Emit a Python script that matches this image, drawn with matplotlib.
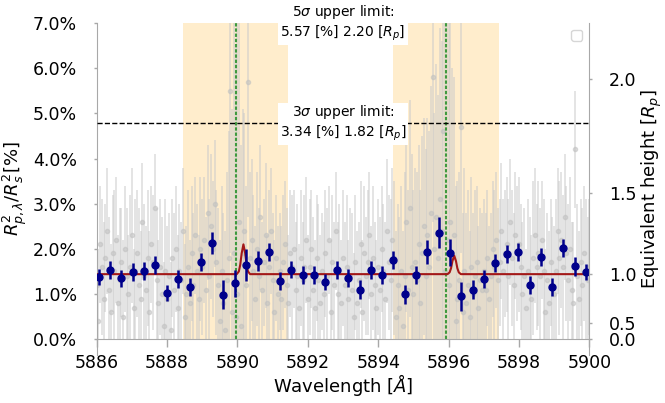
import numpy as np
import matplotlib
matplotlib.use('Agg')
import matplotlib.pyplot as plt
from matplotlib.ticker import FormatStrFormatter
from matplotlib.transforms import Bbox, TransformedBbox

plt.rcParams['font.size'] = 12.5
plt.rcParams['mathtext.fontset'] = 'dejavusans'

# ---- data ------------------------------------------------------------
baseline = 1.44  # transit depth in % (R_p)

# unbinned spectrum, 0.05 A sampling from 5886.00 to 5900.00
gray_start, gray_step = 5886.0, 0.05
gray_depth = [
    1.2, 0.4, 2.1, 1.6, 0.9, 1.8, 2.4, 1.1, 0.6, 1.9, 1.5, 2.2, 0.8, 1.3, 1.7, 0.5, 2.0, 1.4, 1.0, 1.6,
    2.3, 0.7, 1.5, 1.9, 1.2, 0.9, 2.6, 1.4, 1.1, 1.8, 0.6, 2.1, 1.7, 2.9, 1.3, 0.8, 1.6, 1.0, 0.3, 1.5,
    0.9, 1.4, 0.2, 1.8, 1.1, 2.0, 0.7, 1.5, 1.3, 2.4, 0.5, 1.0, 1.6, 0.8, 1.9, 1.2, 2.3, 1.5, 0.9, 2.0,
    1.6, 2.2, 1.1, 2.8, 1.4, 2.5, 2.0, 3.0, 1.7, 1.2, 0.4, 1.5, 0.8, 0.2, 1.3, 1.8, 5.5, 0.6, 1.9, 0.5,
    1.0, 2.6, 0.3, 1.9, 2.4, 1.2, 5.7, 1.8, 2.2, 1.5, 0.9, 2.0, 1.4, 2.7, 1.1, 1.7, 2.3, 0.8, 1.6, 2.4,
    1.3, 0.6, 1.8, 1.0, 1.5, 0.9, 1.7, 2.1, 1.2, 0.8, 1.9, 1.6, 2.0, 1.1, 1.4, 0.7, 1.8, 1.3, 1.6, 2.2,
    0.9, 1.6, 2.0, 1.1, 0.7, 1.8, 1.3, 0.8, 1.5, 1.0, 1.9, 1.4, 2.2, 0.6, 1.7, 1.2, 2.4, 1.0, 1.5, 0.8,
    1.8, 1.2, 1.6, 0.9, 1.4, 1.1, 0.5, 1.7, 0.8, 1.3, 2.1, 0.6, 1.9, 1.4, 1.7, 2.3, 1.0, 1.8, 1.2, 0.7,
    1.6, 1.1, 2.0, 1.5, 0.9, 2.4, 1.7, 1.3, 2.2, 1.8, 0.5, 1.2, 0.7, 1.5, 0.3, 1.4, 2.6, 1.1, 2.9, 1.6,
    1.0, 1.7, 1.3, 2.1, 0.8, 1.9, 2.5, 1.4, 2.3, 1.6, 2.8, 5.8, 2.0, 2.7, 1.8, 3.1, 2.4, 4.6, 1.5, 2.2,
    1.2, 2.6, 1.8, 2.3, 0.4, 0.9, 1.3, 4.7, 0.6, 1.5, 0.8, 1.2, 0.5, 1.6, 1.0, 1.4, 1.7, 0.7, 1.3, 1.1,
    1.5, 1.1, 1.8, 0.9, 1.4, 2.0, 1.6, 2.2, 1.3, 1.7, 2.4, 1.5, 1.9, 2.1, 1.4, 2.6, 1.8, 1.2, 2.3, 1.9,
    2.1, 1.6, 1.0, 1.4, 0.7, 1.5, 1.2, 0.9, 1.8, 2.3, 1.6, 1.9, 1.4, 2.2, 1.5, 0.6, 1.3, 0.8, 1.7, 1.2,
    1.0, 1.5, 2.4, 1.8, 2.2, 1.6, 2.7, 1.9, 1.3, 2.0, 1.1, 0.8, 4.2, 1.4, 0.9, 1.7, 1.2, 1.9, 1.5, 1.3,
    1.6,
]
gray_err = [
    1.4, 1.6, 1.3, 1.5, 1.7, 1.2, 1.4, 1.6, 1.5, 1.3, 1.8, 1.4, 1.5, 1.6, 1.2, 1.7, 1.4, 1.5, 1.3, 1.6,
    1.5, 1.3, 1.6, 1.4, 1.7, 1.5, 1.3, 1.6, 1.4, 1.5, 1.8, 1.3, 1.5, 1.2, 1.6, 1.4, 1.5, 1.7, 1.4, 1.6,
    1.6, 1.4, 1.5, 1.3, 1.7, 1.4, 1.6, 1.5, 1.3, 1.4, 1.6, 1.5, 1.7, 1.4, 1.5, 1.6, 1.3, 1.5, 1.4, 1.6,
    1.5, 1.4, 1.6, 1.5, 1.7, 1.6, 1.5, 1.4, 1.6, 1.7, 1.8, 1.9, 2.0, 2.2, 2.4, 2.8, 3.6, 4.5, 5.2, 6.0,
    6.0, 5.0, 4.0, 3.2, 2.6, 2.2, 3.0, 1.9, 1.8, 1.7, 1.6, 1.7, 1.5, 1.6, 1.5, 1.4, 1.6, 1.5, 1.7, 1.4,
    1.5, 1.6, 1.4, 1.5, 1.3, 1.6, 1.5, 1.4, 1.7, 1.5, 1.4, 1.6, 1.3, 1.5, 1.6, 1.4, 1.5, 1.3, 1.6, 1.4,
    1.4, 1.5, 1.3, 1.6, 1.5, 1.4, 1.7, 1.5, 1.3, 1.6, 1.4, 1.5, 1.2, 1.6, 1.5, 1.4, 1.3, 1.6, 1.5, 1.4,
    1.5, 1.4, 1.6, 1.3, 1.5, 1.7, 1.4, 1.5, 1.6, 1.3, 1.4, 1.6, 1.5, 1.3, 1.6, 1.4, 1.5, 1.6, 1.4, 1.5,
    1.5, 1.6, 1.4, 1.5, 1.7, 1.6, 1.5, 1.8, 1.6, 1.7, 1.9, 1.8, 2.0, 1.9, 2.1, 2.3, 2.0, 2.2, 2.4, 2.5,
    2.3, 2.1, 2.4, 2.2, 2.5, 2.6, 2.4, 2.8, 2.6, 3.0, 2.8, 3.2, 3.0, 3.4, 3.6, 3.8, 4.2, 4.8, 5.5, 6.0,
    6.0, 5.0, 4.2, 3.5, 3.0, 2.6, 2.4, 2.8, 2.2, 2.3, 2.0, 2.1, 1.9, 2.0, 1.8, 1.9, 1.7, 1.8, 1.6, 1.7,
    1.6, 1.7, 1.5, 1.6, 1.4, 1.5, 1.7, 1.5, 1.6, 1.4, 1.5, 1.6, 1.4, 1.5, 1.7, 1.4, 1.5, 1.6, 1.4, 1.5,
    1.5, 1.4, 1.6, 1.5, 1.3, 1.6, 1.5, 1.4, 1.7, 1.5, 1.4, 1.6, 1.5, 1.3, 1.6, 1.4, 1.5, 1.6, 1.4, 1.5,
    1.5, 1.6, 1.4, 1.7, 1.5, 1.6, 1.4, 1.5, 1.7, 1.6, 1.5, 1.8, 1.3, 1.6, 1.5, 1.4, 1.7, 1.5, 1.6, 1.4,
    1.5,
]

# binned spectrum
bin_wave = [5886.06, 5886.38, 5886.70, 5887.03, 5887.35, 5887.67, 5887.99, 5888.31, 5888.64, 5888.96,
            5889.28, 5889.60, 5889.92, 5890.25, 5890.57, 5890.89, 5891.21, 5891.53, 5891.86, 5892.18,
            5892.50, 5892.82, 5893.14, 5893.47, 5893.79, 5894.11, 5894.43, 5894.75, 5895.08, 5895.40,
            5895.72, 5896.04, 5896.36, 5896.69, 5897.01, 5897.33, 5897.65, 5897.97, 5898.30, 5898.62,
            5898.94, 5899.26, 5899.58, 5899.90]
bin_depth = [1.37, 1.54, 1.35, 1.48, 1.51, 1.64, 1.02, 1.33, 1.16, 1.70,
             2.13, 0.98, 1.24, 1.64, 1.74, 1.93, 1.28, 1.54, 1.42, 1.42,
             1.26, 1.54, 1.35, 1.10, 1.54, 1.43, 1.76, 0.99, 1.42, 1.93,
             2.36, 1.91, 0.95, 1.10, 1.34, 1.68, 1.88, 1.94, 1.21, 1.82,
             1.16, 2.02, 1.61, 1.48]
bin_err = [0.18, 0.20, 0.19, 0.20, 0.20, 0.20, 0.18, 0.20, 0.20, 0.20,
           0.25, 0.32, 0.30, 0.36, 0.22, 0.20, 0.20, 0.18, 0.20, 0.20,
           0.18, 0.20, 0.20, 0.20, 0.20, 0.20, 0.20, 0.22, 0.20, 0.27,
           0.34, 0.30, 0.32, 0.22, 0.20, 0.20, 0.20, 0.20, 0.20, 0.20,
           0.20, 0.20, 0.20, 0.18]

# best-fit model
model_wave = [5886.0,
              5889.98, 5890.04, 5890.08, 5890.12, 5890.17, 5890.22, 5890.26, 5890.30, 5890.36,
              5895.97, 5896.03, 5896.07, 5896.11, 5896.16, 5896.21, 5896.25, 5896.29, 5896.35,
              5900.0]
model_depth = [1.44,
               1.44, 1.50, 1.65, 1.90, 2.10, 1.90, 1.65, 1.50, 1.44,
               1.44, 1.48, 1.57, 1.73, 1.85, 1.73, 1.57, 1.48, 1.44,
               1.44]

na_lines = [5889.95, 5895.92]
na_bands = [(5888.45, 5891.45), (5894.42, 5897.42)]

limit_sigma = [5, 3]
limit_pct = [5.57, 3.34]
limit_rp = [2.20, 1.82]

rp_ticks = [0.0, 0.5, 1.0, 1.5, 2.0]
wl_ticks = [5886, 5888, 5890, 5892, 5894, 5896, 5898, 5900]
pct_ticks = [0, 1, 2, 3, 4, 5, 6, 7]

XMIN, XMAX = 5886, 5900
YMIN, YMAX = -0.36, 7.01
SPINE = '#a8a8a8'

# ---- plot -------------------------------------------------------------
fig = plt.figure(figsize=(6.65, 4.03), dpi=100)
ax = fig.add_axes([0.1454, 0.118, 0.7408, 0.826])

zero_frac = (0 - YMIN) / (YMAX - YMIN)
for lo, hi in na_bands:
    ax.axvspan(lo, hi, ymin=zero_frac, color='orange', alpha=0.2, lw=0, zorder=0)

gray_wave = gray_start + gray_step * np.arange(len(gray_depth))
gray = ax.errorbar(gray_wave, gray_depth, yerr=gray_err, fmt='o', ms=3,
                   color='#c0c0c0', ecolor='#cacaca', elinewidth=1.3,
                   alpha=0.55, zorder=1)
clip = TransformedBbox(Bbox([[XMIN, 0], [XMAX, YMAX]]), ax.transData)
gray[0].set_clip_box(clip)
for lc in gray[2]:
    lc.set_clip_box(clip)

ax.vlines(na_lines, 0, YMAX, colors='#3f9a3f', linestyles=(0, (1.6, 0.9)),
          lw=1.5, zorder=2)

ax.plot(model_wave, model_depth, color='#a31818', lw=1.5, zorder=3)

ax.errorbar(bin_wave, bin_depth, yerr=bin_err, fmt='o', ms=5,
            color='darkblue', elinewidth=1.8, capsize=0, zorder=4)

for s, pct, rp in zip(limit_sigma, limit_pct, limit_rp):
    level = baseline + pct
    if level < YMAX - 0.05:
        ax.axhline(level, color='black', ls='--', lw=1, zorder=3)
    ax.text((XMIN + XMAX) / 2, level,
            '%d$\\sigma$ upper limit:\n%.2f [%%] %.2f [$R_p$]' % (s, pct, rp),
            ha='center', va='center', fontsize=10, zorder=6, clip_on=False,
            bbox=dict(boxstyle='square,pad=0.15', facecolor='white',
                      edgecolor='none'))

ax.legend(handles=[], loc='upper right', fontsize=10)

ax.set_xlim(XMIN, XMAX)
ax.set_ylim(YMIN, YMAX)
ax.set_xticks(wl_ticks)
ax.set_yticks(pct_ticks)
ax.yaxis.set_major_formatter(FormatStrFormatter('%.1f%%'))
ax.spines['bottom'].set_position(('data', 0))
for side in ['top', 'right']:
    ax.spines[side].set_visible(False)
for side in ['left', 'bottom']:
    ax.spines[side].set_color(SPINE)
ax.tick_params(axis='x', length=6, width=1, color=SPINE, pad=5)
ax.tick_params(axis='y', length=2.2, width=1, color=SPINE, pad=12)
ax.set_xlabel(r'Wavelength [$\AA$]', fontsize=13, labelpad=0)
ax.set_ylabel(r'$R^2_{p,\lambda}/R^2_s[\%]$', fontsize=13, labelpad=3)

twin = ax.twinx()
twin.set_ylim(YMIN, YMAX)
twin.set_yticks([baseline * h ** 2 for h in rp_ticks])
twin.set_yticklabels(['%.1f' % h for h in rp_ticks])
for side in ['top', 'left', 'bottom']:
    twin.spines[side].set_visible(False)
twin.spines['right'].set_color(SPINE)
twin.tick_params(axis='y', length=2.2, width=1, color=SPINE, pad=12)
twin.set_ylabel(r'Equivalent height [$R_p$]', fontsize=13, labelpad=2)

fig.savefig('out.png', dpi=100)
